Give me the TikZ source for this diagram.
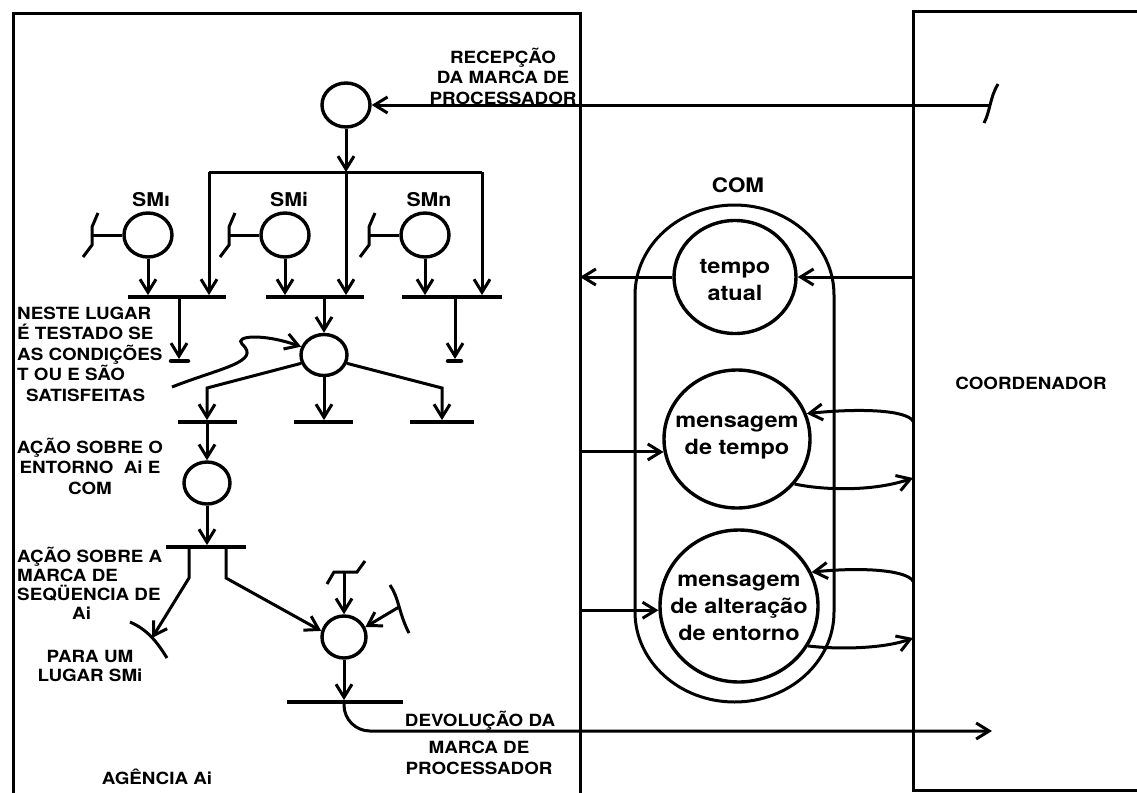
\documentclass[tikz,border=0pt]{standalone}
\usepackage{fontspec}
\setmainfont{TeX Gyre Heros}[FakeStretch=1.12]
\usetikzlibrary{arrows.meta,shapes.geometric}
\begin{document}
\begin{tikzpicture}[x=1pt,y=-1pt,
  ln/.style={line width=3pt},
  >={Straight Barb[length=13pt,width=16pt]},
  place/.style={ellipse, draw, line width=3.4pt, inner sep=0pt, minimum width=48pt, minimum height=44pt},
  bar/.style={rectangle, fill=black, inner sep=0pt, minimum height=3.4pt},
  lbl/.style={font=\bfseries\fontsize{16.8}{20.5}\selectfont, inner sep=0pt},
  lbls/.style={font=\bfseries\fontsize{16.8}{19}\selectfont, inner sep=0pt},
  smlbl/.style={font=\bfseries\fontsize{19}{22}\selectfont, inner sep=0pt},
  ctext/.style={font=\bfseries\fontsize{21}{27}\selectfont, align=center, inner sep=0pt},
  blot/.style={line width=4.5pt, line cap=round},
  smtick/.pic={\draw[line width=3pt] (-9,22) -- (0,10) -- (0,-8) -- (6,-22);}
]
\useasboundingbox (0,0) rectangle (1137,792);

% boxes
\coordinate (ag) at (580,14);
\coordinate (co) at (913,12);
\draw[ln] (13,800) -- (13,14) -- (ag) -- (580,800);
\draw[ln] (1145,12) -- (co) -- (913,790) -- (1145,790);

% reception
\node[place] (rec) at (346,105) {};
\node[lbl, align=center] (recl) at (503,76) {RECEPÇÃO\\DA MARCA DE\\PROCESSADOR};
\coordinate (inE) at (991,105);
\draw[ln] (984,123) .. controls (990,112) and (990,97) .. (998,84);
\draw[ln,->] (inE) -- (rec.east);

\coordinate (jn) at (346,172);
\coordinate (jl) at (209,172);
\coordinate (jr) at (482,172);
\draw[ln,->] (rec.south) -- (jn);
\draw[ln] (jl) -- (jr);
\node[bar, minimum width=98pt] (t1) at (177,297) {};
\node[bar, minimum width=98pt] (t2) at (315,297) {};
\node[bar, minimum width=100pt] (t3) at (452,297) {};
\draw[ln,->] (jl) -- (jl |- t1.north);
\draw[ln,->] (jn) -- (jn |- t2.north);
\draw[ln,->] (jr) -- (jr |- t3.north);

% SM places
\node[place] (sm1) at (148,235) {};
\node[place] (sm2) at (285,235) {};
\node[place] (sm3) at (425,235) {};
\node[smlbl] (sml1) at (151,200) {SMı};
\node[smlbl] (sml2) at (289,200) {SMi};
\node[smlbl] (sml3) at (429,200) {SMn};
\coordinate (k1) at (92,235);
\coordinate (k2) at (229,235);
\coordinate (k3) at (369,235);
\pic at (k1) {smtick};
\pic at (k2) {smtick};
\pic at (k3) {smtick};
\draw[ln] (k1) -- (sm1.west);
\draw[ln] (k2) -- (sm2.west);
\draw[ln] (k3) -- (sm3.west);
\draw[ln,->] (sm1.south) -- (sm1.south |- t1.north);
\draw[ln,->] (sm2.south) -- (sm2.south |- t2.north);
\draw[ln,->] (sm3.south) -- (sm3.south |- t3.north);

% sinks
\coordinate (e1) at (179,359);
\coordinate (e3) at (455,359);
\draw[ln,->] (t1.south -| e1) -- (e1);
\draw[ln,->] (t3.south -| e3) -- (e3);
\draw[blot] ([xshift=-8pt,yshift=-2pt]e1) -- ([xshift=9pt,yshift=-2pt]e1);
\draw[blot] ([xshift=-7pt,yshift=-2pt]e3) -- ([xshift=6pt,yshift=-2pt]e3);

% test place
\node[place, minimum width=46pt, minimum height=41pt] (ctr) at (324,355) {};
\draw[ln,->] (t2.south -| ctr) -- (ctr.north);
\node[lbl, align=left, anchor=west] (note) at (17,354) {NESTE LUGAR\\É TESTADO SE\\AS CONDIÇÕES\\T OU E SÃO\\\hspace*{9pt}SATISFEITAS};
\draw[ln,->] (172,387) .. controls (220,368) and (262,362) .. (242,344) .. controls (234,336) and (262,333) .. (ctr.160);

\coordinate (c1) at (207,388);
\coordinate (c3) at (442,388);
\node[bar, minimum width=59pt] (b1) at (207,422) {};
\node[bar, minimum width=59pt] (b2) at (323,422) {};
\node[bar, minimum width=64pt] (b3) at (442,422) {};
\draw[ln,->] (ctr.200) -- (c1) -- (b1.north);
\draw[ln,->] (ctr.south) -- (ctr.south |- b2.north);
\draw[ln,->] (ctr.340) -- (c3) -- (b3.north);

% action
\node[place, minimum width=46pt, minimum height=42pt] (act) at (207,483) {};
\draw[ln,->] (b1.south) -- (act.north);
\node[lbl, align=center] (actl) at (90,466) {AÇÃO SOBRE O\\ENTORNO\ \ Ai E\\COM};
\node[bar, minimum width=80pt] (b4) at (206,547) {};
\draw[ln,->] (act.south) -- (act.south |- b4.north);
\coordinate (l1) at (189,578);
\coordinate (l2) at (152,638);
\coordinate (r1) at (226,578);
\draw[ln,->] (b4.south -| l1) -- (l1) -- (l2);
\draw[ln] (130,622) .. controls (148,630) and (157,642) .. (167,658);
\node[lbls, align=left, anchor=west] (seql) at (17,583) {AÇÃO SOBRE A\\MARCA DE\\SEQÜENCIA DE\\\hspace*{55pt}Ai};
\node[lbls, align=center] (parl) at (90,666) {PARA UM\\LUGAR SMi};

% return place
\node[place, minimum width=44pt, minimum height=42pt] (bc) at (344,637) {};
\draw[ln,->] (b4.south -| r1) -- (r1) -- (bc.165);
\coordinate (kt) at (344,572);
\draw[ln] (327,584) -- (334,572) -- (357,572) -- (365,561);
\draw[ln,->] (kt) -- (bc.north);
\coordinate (kr) at (399,607);
\draw[ln] (390,585) .. controls (399,598) and (399,614) .. (409,633);
\draw[ln,->] (kr) -- (bc.25);
\node[bar, minimum width=116pt] (b5) at (345,702) {};
\draw[ln,->] (bc.south) -- (bc.south |- b5.north);
\coordinate (out) at (992,731);
\draw[ln,->,rounded corners=26pt] (b5.south -| bc) |- (out);
\node[lbl] (devl) at (480,721) {DEVOLUÇÃO DA};
\node[lbl, align=center] (marl) at (479,758) {MARCA DE\\PROCESSADOR};
\node[lbl] (agl) at (157,777) {AGÊNCIA Ai};

% COM
\node[font=\bfseries\fontsize{20}{24}\selectfont, inner sep=0pt] (coml) at (738,185) {COM};
\draw[line width=3pt] (635,612) -- (635,295) arc[start angle=180,end angle=360,x radius=99.5,y radius=90] -- (834,612) arc[start angle=0,end angle=180,x radius=99.5,y radius=90] -- cycle;
\node[place, minimum width=122pt, minimum height=113pt] (ta) at (735,277) {};
\node[ctext] at (735,280) {tempo\\atual};
\node[place, minimum width=146pt, minimum height=138pt] (mt) at (737,439) {};
\node[ctext] at (737,438) {mensagem\\de tempo};
\node[place, minimum width=158pt, minimum height=152pt] (ma) at (739,606) {};
\node[ctext] at (739,608) {mensagem\\de alteração\\de entorno};

\coordinate (q1) at (913,421);
\coordinate (q2) at (913,478);
\coordinate (q3) at (913,581);
\coordinate (q4) at (913,638);
\draw[ln,->] (co |- ta.east) -- (ta.east);
\draw[ln,->] (ta.west) -- (ag |- ta.west);
\draw[ln,->] (ag |- mt.190) -- (mt.190);
\draw[ln,->] (ag |- ma.183) -- (ma.183);
\draw[ln,->] (q1) .. controls (906,410) and (860,408) .. (mt.20);
\draw[ln,->] (mt.322) .. controls (822,490) and (872,492) .. (q2);
\draw[ln,->] (q3) .. controls (906,570) and (862,567) .. (ma.25);
\draw[ln,->] (ma.330) .. controls (842,650) and (886,648) .. (q4);

\node[lbl] (coordl) at (1031,383) {COORDENADOR};
\end{tikzpicture}
\end{document}
